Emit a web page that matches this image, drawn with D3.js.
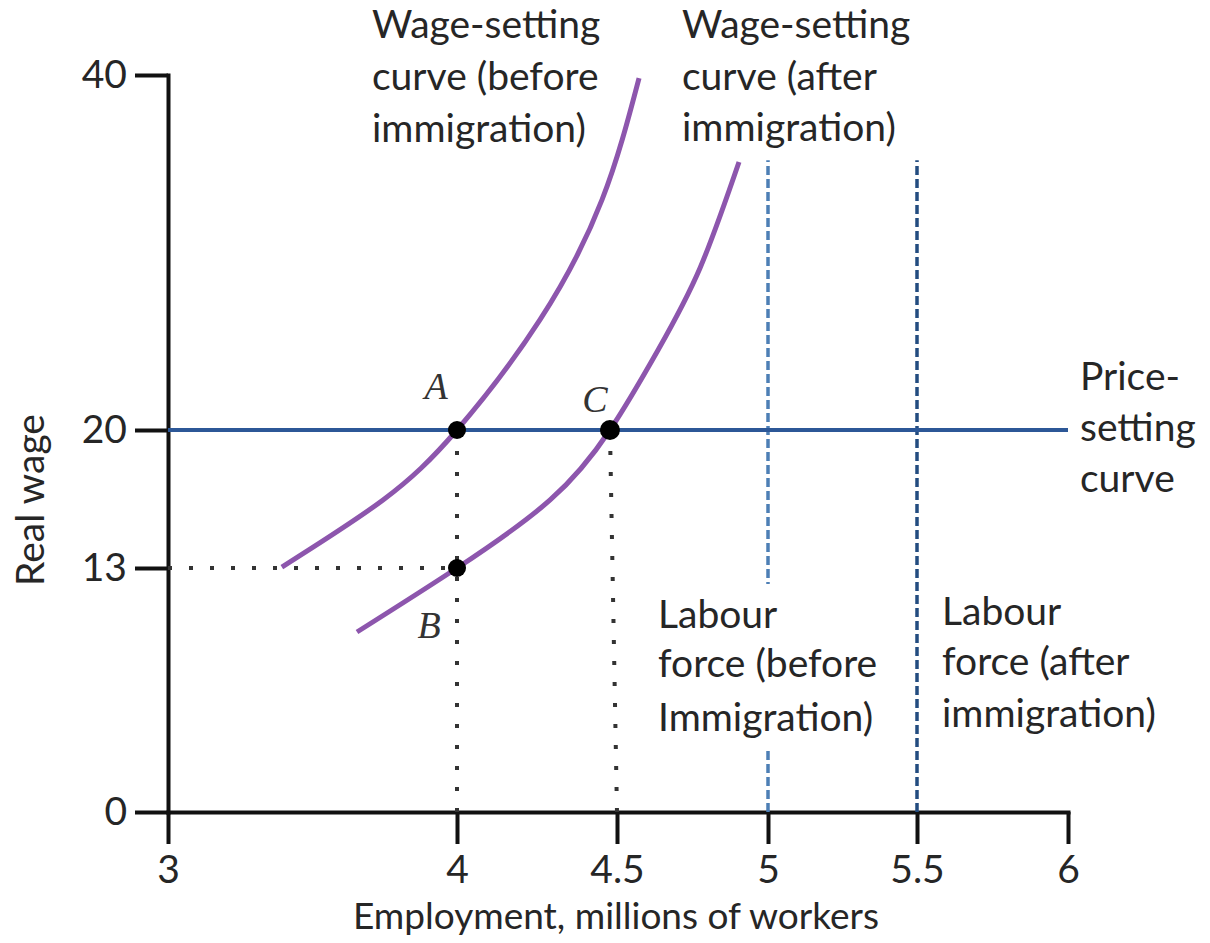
<!DOCTYPE html>
<html>
<head>
<meta charset="utf-8">
<script src="https://cdn.jsdelivr.net/npm/d3@7"></script>
<style>
  html, body { margin: 0; padding: 0; background: #fff; }
  svg { display: block; }
</style>
</head>
<body>
<svg id="chart" width="1210" height="943"></svg>
<script>
// ---------- data ----------
const xTicks = [3, 4, 4.5, 5, 5.5, 6];
const xTickLabels = ["3", "4", "4.5", "5", "5.5", "6"];
const yTicks = [0, 13, 20, 40];
const yTickLabels = ["0", "13", "20", "40"];

// wage-setting curve before immigration: [employment (millions), real wage]
const wsBefore = [[3.394,13.05],[3.744,16.45],[4,20],[4.259,26.2],[4.453,32.96],[4.573,39.83]];
// wage-setting curve after immigration
const wsAfter = [[3.654,9.59],[4,13],[4.291,16.45],[4.478,20],[4.636,24.51],[4.775,29.13],[4.904,35.1]];
// price-setting curve
const priceSetting = [[3,20],[6,20]];
// labour force (before, after immigration)
const labourForce = [5, 5.5];
const labourTop = 35.2;
// equilibrium points
const points = [
  {name: "A", x: 4, y: 20},
  {name: "B", x: 4, y: 13},
  {name: "C", x: 4.478, y: 20}
];
// dotted guide lines [from, to]
const guides = [
  [[4, 20], [4, 0]],
  [[3, 13], [4, 13]],
  [[4.478, 20], [4.5, 0]]
];

// ---------- layout ----------
const svg = d3.select("#chart");
const x = d3.scaleLinear().domain(xTicks).range([168, 457, 617, 768, 917, 1068]);
const y = d3.scaleLinear().domain(yTicks).range([812, 568, 430, 75]);

const purple = "#8d56ad";
const FS = 39;
const FONT = "Lato, 'Open Sans', sans-serif";
const TXT = "#262626";

// y axis
const yAxis = d3.axisLeft(y).tickValues(yTicks).tickSize(33).tickSizeOuter(0).tickPadding(8)
  .tickFormat((d, i) => yTickLabels[i]);
const gy = svg.append("g").attr("transform", `translate(${x(3)},0)`).call(yAxis);
// x axis
const xAxis = d3.axisBottom(x).tickValues(xTicks).tickSize(32).tickSizeOuter(0).tickPadding(11)
  .tickFormat((d, i) => xTickLabels[i]);
const gx = svg.append("g").attr("transform", `translate(0,${y(0)})`).call(xAxis);

[gx, gy].forEach(g => {
  g.select(".domain").attr("stroke", "#111").attr("stroke-width", 4).attr("stroke-linecap", "square");
  g.selectAll(".tick line").attr("stroke", "#111").attr("stroke-width", 4);
  g.selectAll(".tick text").style("font-size", FS + "px").style("font-family", FONT).style("fill", TXT);
});

const line = d3.line().x(d => x(d[0])).y(d => y(d[1]));

// labour force dashed lines
svg.append("g").selectAll("line").data(labourForce).join("line")
  .attr("x1", d => x(d)).attr("x2", d => x(d))
  .attr("y1", y(0)).attr("y2", y(labourTop))
  .attr("stroke", (d, i) => i === 0 ? "#4d7fb5" : "#234c80")
  .attr("stroke-width", 3.5)
  .attr("stroke-dasharray", "9,4");

// price-setting line
svg.append("path").datum(priceSetting).attr("d", line)
  .attr("fill", "none").attr("stroke", "#2c5797").attr("stroke-width", 4);

// dotted guides
svg.append("g").selectAll("path").data(guides).join("path")
  .attr("d", line)
  .attr("fill", "none").attr("stroke", "#333").attr("stroke-width", 4)
  .attr("stroke-dasharray", "4,17");

// wage-setting curves
const curve = d3.line().x(d => x(d[0])).y(d => y(d[1])).curve(d3.curveNatural);
svg.append("g").selectAll("path").data([wsBefore, wsAfter]).join("path")
  .attr("d", curve)
  .attr("fill", "none").attr("stroke", purple).attr("stroke-width", 5).attr("stroke-linecap", "butt");

// points
svg.append("g").selectAll("circle").data(points).join("circle")
  .attr("cx", d => x(d.x)).attr("cy", d => y(d.y)).attr("r", d => d.name === "C" ? 10 : 9)
  .attr("fill", "#000");

// point labels
const ptOffset = {A: [-21, -31], B: [-28, 70], C: [-15, -18]};
svg.append("g").selectAll("text").data(points).join("text")
  .attr("x", d => x(d.x) + ptOffset[d.name][0])
  .attr("y", d => y(d.y) + ptOffset[d.name][1])
  .attr("text-anchor", "middle")
  .style("font-family", "'Liberation Serif', 'DejaVu Serif', serif")
  .style("font-style", "italic").style("font-size", "38px").style("fill", "#333")
  .text(d => d.name);

// multi-line labels
function label(x0, baselines, lines, bg) {
  const t = svg.append("text").style("font-size", FS + "px").style("font-family", FONT).style("fill", TXT);
  lines.forEach((s, i) => t.append("tspan").attr("x", x0).attr("y", baselines[i]).text(s));
  if (bg) {
    const b = t.node().getBBox();
    svg.insert("rect", () => t.node()).attr("x", b.x - 12).attr("y", b.y - 6)
      .attr("width", b.width + 24).attr("height", b.height + 18).attr("fill", "#fff");
  }
  return t;
}
label(372, [38, 90, 142], ["Wage-setting", "curve (before", "immigration)"]);
label(682, [38, 90, 141], ["Wage-setting", "curve (after", "immigration)"]);
label(1080, [390, 441, 492], ["Price-", "setting", "curve"]);
label(658, [628, 677, 731], ["Labour", "force (before", "Immigration)"], true);
label(942, [625, 675, 727], ["Labour", "force (after", "immigration)"]);

// axis titles
svg.append("text").attr("x", 616).attr("y", 929).attr("text-anchor", "middle")
  .style("font-size", "37px").style("font-family", FONT).style("fill", TXT)
  .text("Employment, millions of workers");
svg.append("text").attr("transform", "translate(44,500) rotate(-90)").attr("text-anchor", "middle")
  .style("font-size", FS + "px").style("font-family", FONT).style("fill", TXT)
  .text("Real wage");
</script>
</body>
</html>
